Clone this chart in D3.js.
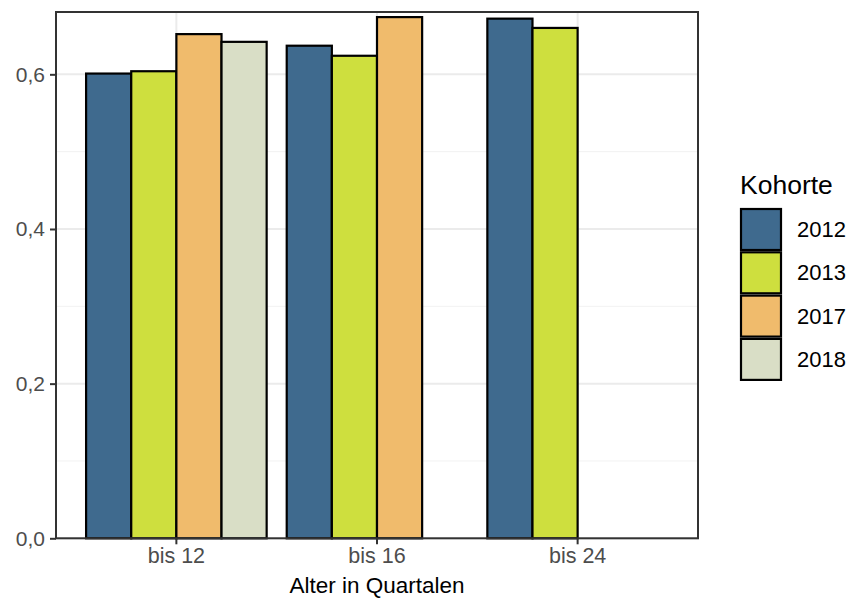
<!DOCTYPE html>
<html><head><meta charset="utf-8">
<script src="https://cdn.jsdelivr.net/npm/d3@7"></script>
<style>body{margin:0;background:#fff}svg{display:block;font-family:"Liberation Sans",Arial,sans-serif}</style>
</head><body><svg id="c" width="849" height="599"></svg>
<script>
const categories = ["bis 12", "bis 16", "bis 24"];
const cohorts = ["2012", "2013", "2017", "2018"];
const values2012 = [0.601, 0.637, 0.672];
const values2013 = [0.604, 0.624, 0.660];
const values2017 = [0.652, 0.674, null];
const values2018 = [0.642, null, null];
const yTicks = [0, 0.2, 0.4, 0.6];
const yTickLabels = ["0,0", "0,2", "0,4", "0,6"];
const yMinor = [0.1, 0.3, 0.5];
const colors = ["#3F6A8E", "#CEDF3E", "#F0BB6C", "#D9DEC6"];

const seriesValues = [values2012, values2013, values2017, values2018];
const data = [];
categories.forEach((c, i) => cohorts.forEach((k, j) => {
  const v = seriesValues[j][i];
  if (v != null) data.push({cat: c, cohort: k, value: v});
}));

const svg = d3.select("#c");
const L = 56, R = 698, T = 12, B = 538.3;
const x = d3.scaleBand().domain(categories).range([L, R]).paddingInner(0.1).paddingOuter(0.15);
const xi = d3.scaleBand().domain(cohorts).range([0, x.bandwidth()]);
const y = d3.scaleLinear().domain([0, 0.6806]).range([B, T]);
const col = d3.scaleOrdinal().domain(cohorts).range(colors);

// grid
const g = svg.append("g");
g.selectAll(".mn").data(yMinor).join("line")
  .attr("x1", L).attr("x2", R).attr("y1", d => y(d)).attr("y2", d => y(d))
  .attr("stroke", "#F2F2F2").attr("stroke-width", 1);
g.selectAll(".mj").data(yTicks).join("line")
  .attr("x1", L).attr("x2", R).attr("y1", d => y(d)).attr("y2", d => y(d))
  .attr("stroke", "#EBEBEB").attr("stroke-width", 2);
g.selectAll(".mx").data(categories).join("line")
  .attr("x1", d => x(d) + x.bandwidth() / 2).attr("x2", d => x(d) + x.bandwidth() / 2)
  .attr("y1", T).attr("y2", B)
  .attr("stroke", "#EBEBEB").attr("stroke-width", 2);

// bars
svg.append("g").selectAll("rect").data(data).join("rect")
  .attr("x", d => x(d.cat) + xi(d.cohort))
  .attr("width", xi.bandwidth())
  .attr("y", d => y(d.value))
  .attr("height", d => y(0) - y(d.value))
  .attr("fill", d => col(d.cohort))
  .attr("stroke", "#000").attr("stroke-width", 2.2);

// panel border
svg.append("rect").attr("x", L).attr("y", T).attr("width", R - L).attr("height", B - T)
  .attr("fill", "none").attr("stroke", "#333333").attr("stroke-width", 2);

// axes
const yAxis = d3.axisLeft(y).tickValues(yTicks).tickFormat((d, i) => yTickLabels[i]).tickSize(6).tickPadding(5);
const ya = svg.append("g").attr("transform", `translate(${L},0)`).call(yAxis);
ya.select(".domain").remove();
ya.selectAll("line").attr("stroke", "#333333").attr("stroke-width", 2);
ya.selectAll("text").attr("fill", "#4D4D4D").style("font-size", "21px").style("font-family", "Liberation Sans, Arial, sans-serif");

const xAxis = d3.axisBottom(x).tickSize(6).tickPadding(3);
const xa = svg.append("g").attr("transform", `translate(0,${B})`).call(xAxis);
xa.select(".domain").remove();
xa.selectAll("line").attr("stroke", "#333333").attr("stroke-width", 2);
xa.selectAll("text").attr("fill", "#4D4D4D").style("font-size", "21.5px").style("font-family", "Liberation Sans, Arial, sans-serif");

svg.append("text").attr("x", (L + R) / 2).attr("y", 593).attr("text-anchor", "middle")
  .style("font-size", "22.5px").attr("fill", "#000").text("Alter in Quartalen");

// legend
const lg = svg.append("g");
lg.append("text").attr("x", 740).attr("y", 194).style("font-size", "26.5px").attr("fill", "#000").text("Kohorte");
const items = lg.selectAll(".it").data(cohorts).join("g").attr("transform", (d, i) => `translate(741,${209 + i * 43.3})`);
items.append("rect").attr("width", 40).attr("height", 41).attr("fill", d => col(d)).attr("stroke", "#000").attr("stroke-width", 2.2);
items.append("text").attr("x", 56).attr("y", 20.5).attr("dy", "0.35em").style("font-size", "22px").attr("fill", "#000").text(d => d);
</script></body></html>
